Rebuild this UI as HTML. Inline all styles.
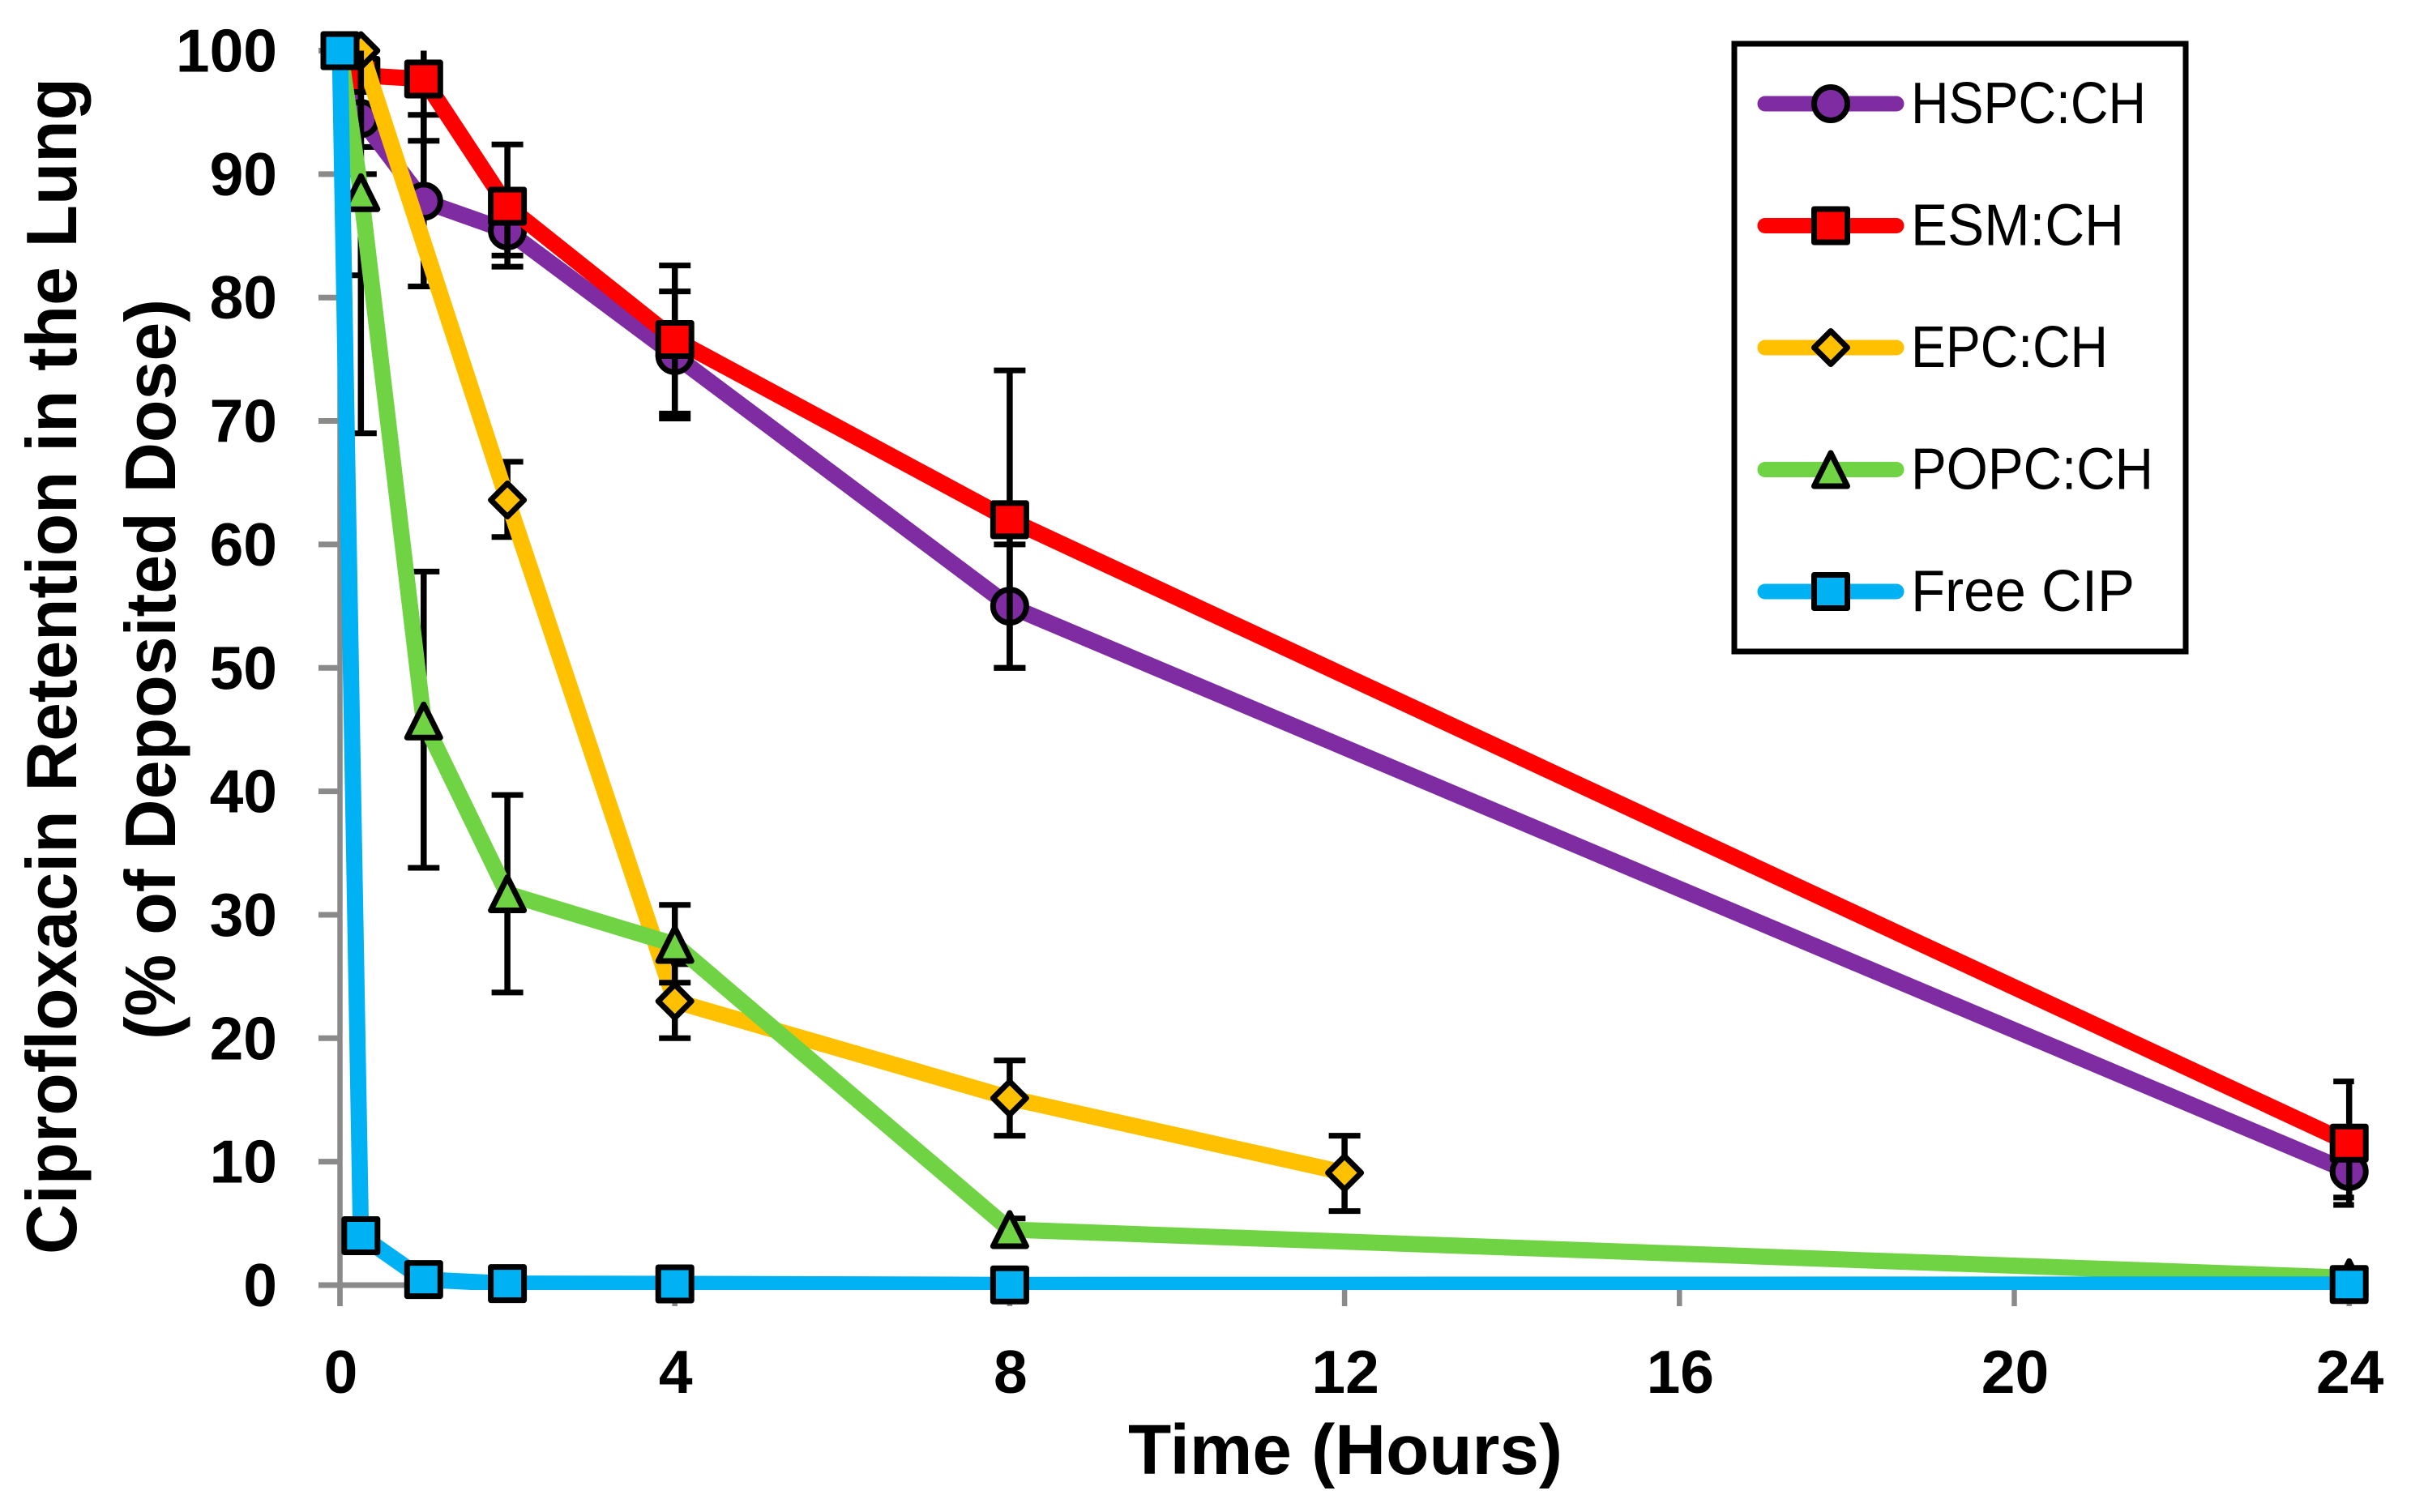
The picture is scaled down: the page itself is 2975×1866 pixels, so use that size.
<!DOCTYPE html>
<html lang="en">
<head>
<meta charset="utf-8">
<title>Ciprofloxacin Retention in the Lung</title>
<style>
html,body{margin:0;padding:0;background:#fff;}
svg{display:block;}
text{fill:#000;font-family:"Liberation Sans",sans-serif;}
.b{font-weight:700;}
</style>
</head>
<body>
<svg id="chart" xmlns="http://www.w3.org/2000/svg" width="2975" height="1866" viewBox="0 0 2975 1866">
  <defs>
    <clipPath id="plot-clip"><rect x="0" y="0" width="2975" height="1592"></rect></clipPath>
  </defs>
  <rect x="0" y="0" width="2975" height="1866" fill="#fff"></rect>
  <g id="axes"></g>
  <g id="series"></g>
  <text class="b" x="1392" y="1819" font-size="87" textLength="536" lengthAdjust="spacingAndGlyphs">Time (Hours)</text>
  <text class="b" transform="translate(94,1548) rotate(-90)" x="0" y="0" font-size="88" textLength="1452" lengthAdjust="spacingAndGlyphs">Ciprofloxacin Retention in the Lung</text>
  <text class="b" transform="translate(216,1283) rotate(-90)" x="0" y="0" font-size="88" textLength="914" lengthAdjust="spacingAndGlyphs">(% of Deposited Dose)</text>
  <g id="legend">
    <rect x="2140" y="54" width="557" height="750" fill="#fff" stroke="#000" stroke-width="7"></rect>
  </g>
</svg>
<script>
const xTickLabels = [0, 4, 8, 12, 16, 20, 24];
const yTickLabels = [0, 10, 20, 30, 40, 50, 60, 70, 80, 90, 100];

const seriesNames = ["HSPC:CH", "ESM:CH", "EPC:CH", "POPC:CH", "Free CIP"];
const seriesColors = ["#7F2CA3", "#FF0000", "#FFC000", "#70D344", "#00B1F3"];
const seriesMarkers = ["circle", "square", "diamond", "triangle", "square"];

const hspcTimes = [0, 0.25, 1, 2, 4, 8, 24];
const hspcValues = [100, 94.5, 87.8, 85.4, 75.3, 55, 9.2];
const hspcLow = [null, 92.2, 80.9, 83.4, 70.2, 50, 7.1];
const hspcHigh = [null, 96.9, 94.8, 87.4, 80.5, 60, 11.3];

const esmTimes = [0, 0.25, 1, 2, 4, 8, 24];
const esmValues = [100, 98, 97.7, 87.4, 76.6, 62, 11.5];
const esmLow = [null, 90, 92.7, 82.5, 70.6, 50, 6.5];
const esmHigh = [null, 106, 102.7, 92.4, 82.6, 74.1, 16.5];

const epcTimes = [0, 0.25, 2, 4, 8, 12];
const epcValues = [100, 100, 63.6, 23, 15.15, 9.1];
const epcLow = [null, 81.8, 60.6, 20, 12.1, 6];
const epcHigh = [null, 118, 66.7, 26, 18.2, 12.1];

const popcTimes = [0, 0.25, 1, 2, 4, 8, 24];
const popcValues = [100, 88.5, 45.7, 31.7, 27.6, 4.5, 0.6];
const popcLow = [null, 69, 33.8, 23.7, 24.5, 3.5, null];
const popcHigh = [null, 108, 57.8, 39.7, 30.8, 5.4, null];

const freeTimes = [0, 0.25, 1, 2, 4, 8, 24];
const freeValues = [100, 4, 0.45, 0.12, 0.1, 0.02, 0.05];

const allTimes = [hspcTimes, esmTimes, epcTimes, popcTimes, freeTimes];
const allValues = [hspcValues, esmValues, epcValues, popcValues, freeValues];
const allLow = [hspcLow, esmLow, epcLow, popcLow, null];
const allHigh = [hspcHigh, esmHigh, epcHigh, popcHigh, null];

const SVGNS = "http://www.w3.org/2000/svg";
const xScale = h => 419.5 + h * 103.3;
const yScale = v => 1586 - v * 15.235;
const Y_MAX = 100;
const PLOT_RIGHT = xScale(24);

function make(tag, props, parent) {
  const el = document.createElementNS(SVGNS, tag);
  for (const k in props) el.setAttribute(k, props[k]);
  parent.appendChild(el);
  return el;
}

function drawMarker(kind, x, y, color, parent) {
  const style = {fill: color, stroke: "#000", "stroke-width": 7, "stroke-linejoin": "round"};
  const s = 20.5;
  if (kind === "circle") return make("circle", {cx: x, cy: y, r: s, ...style}, parent);
  if (kind === "square") return make("rect", {x: x - s, y: y - s, width: 2 * s, height: 2 * s, ...style}, parent);
  if (kind === "diamond") return make("polygon", {points: `${x},${y - s} ${x + s},${y} ${x},${y + s} ${x - s},${y}`, ...style}, parent);
  return make("polygon", {points: `${x},${y - s} ${x + s},${y + s} ${x - s},${y + s}`, ...style}, parent);
}

const axes = document.getElementById("axes");
const GRAY = "#8A8A8A";

const yAxisLine = make("line", {x1: xScale(0), x2: xScale(0), y1: yScale(Y_MAX) - 3, y2: 1612, stroke: GRAY, "stroke-width": 6.5}, axes);


const xAxisLine = make("line", {x1: xScale(0) - 3, x2: PLOT_RIGHT + 3, y1: yScale(0), y2: yScale(0), stroke: GRAY, "stroke-width": 7}, axes);



yTickLabels.forEach(v => {
  const tick = make("line", {x1: 393, x2: xScale(0), y1: yScale(v), y2: yScale(v), stroke: GRAY, "stroke-width": 7}, axes);
  
  
  const label = make("text", {x: 342, y: yScale(v) + 26, "font-size": 75, "text-anchor": "end", class: "b"}, axes);
  label.textContent = v;
  
  
});

xTickLabels.forEach(h => {
  const tick = make("line", {x1: xScale(h), x2: xScale(h), y1: yScale(0), y2: 1612, stroke: GRAY, "stroke-width": 6.5}, axes);
  
  
  const label = make("text", {x: xScale(h) + 1, y: 1719, "font-size": 75, "text-anchor": "middle", class: "b"}, axes);
  label.textContent = h;
  
  
});

const seriesRoot = document.getElementById("series");
seriesNames.forEach((name, i) => {
  const g = make("g", {}, seriesRoot);
  
  
  const times = allTimes[i];
  const values = allValues[i];
  const low = allLow[i];
  const high = allHigh[i];

  if (low) {
    times.forEach((t, j) => {
      if (low[j] === null) return;
      const x = xScale(t);
      const top = Math.min(high[j], Y_MAX);
      const capL = x - 19.5;
      const capR = Math.min(x + 19.5, PLOT_RIGHT + 6);
      const stem = make("line", {x1: x, x2: x, y1: yScale(top), y2: yScale(low[j]), stroke: "#000", "stroke-width": 7.5}, g);
      
      
      const capLow = make("line", {x1: capL, x2: capR, y1: yScale(low[j]), y2: yScale(low[j]), stroke: "#000", "stroke-width": 7}, g);
      
      
      if (high[j] <= Y_MAX) {
        const capHigh = make("line", {x1: capL, x2: capR, y1: yScale(high[j]), y2: yScale(high[j]), stroke: "#000", "stroke-width": 7}, g);
        
        
      }
    });
  }

  const pts = times.map((t, j) => xScale(t) + "," + yScale(values[j])).join(" ");
  const line = make("polyline", {points: pts, fill: "none", stroke: seriesColors[i], "stroke-width": 20, "stroke-linejoin": "round", "clip-path": "url(#plot-clip)"}, g);
  
  

  times.forEach((t, j) => {
    const m = drawMarker(seriesMarkers[i], xScale(t), yScale(values[j]), seriesColors[i], g);
    
    
  });
});

const legendWidths = [290, 263, 243, 299, 276];
const legendRoot = document.getElementById("legend");
seriesNames.forEach((name, i) => {
  const cy = 128 + i * 150.5;
  const entry = make("g", {}, legendRoot);
  
  
  const line = make("line", {x1: 2178, x2: 2340, y1: cy, y2: cy, stroke: seriesColors[i], "stroke-width": 19, "stroke-linecap": "round"}, entry);
  
  
  const m = drawMarker(seriesMarkers[i], 2259, cy, seriesColors[i], entry);
  
  
  const label = make("text", {x: 2358, y: cy + 24, "font-size": 72, textLength: legendWidths[i], lengthAdjust: "spacingAndGlyphs"}, entry);
  label.textContent = name;
  
  
});
</script>
</body>
</html>
